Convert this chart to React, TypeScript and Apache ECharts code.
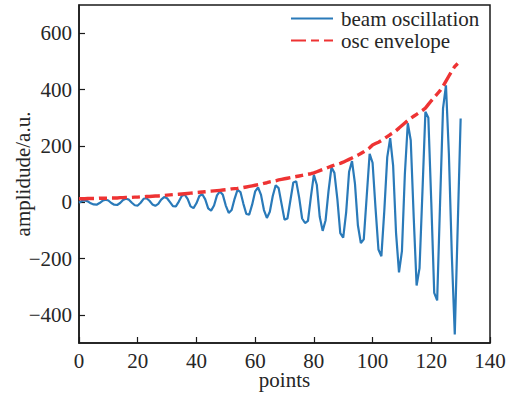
import React, { useEffect, useRef } from "react";
import * as echarts from "echarts";

const beamValues: number[] = [
  -2, 4, 6, 3, -4, -8, -9, -3, 5, 9,
  6, -3, -9, -10, -3, 8, 12, 9, -2, -11,
  -12, -2, 12, 14, 5, -8, -13, -6, 9, 18,
  14, 0, -14, -15, 2, 22, 27, 12, -15, -21,
  -4, 22, 28, 10, -22, -30, -12, 24, 38, 26,
  -12, -38, -28, 12, 44, 36, -6, -42, -44, -8,
  38, 52, 26, -28, -56, -34, 22, 60, 50, -6,
  -62, -58, 6, 70, 74, 16, -58, -74, -66, 20,
  97, 62, -52, -102, -64, 40, 124, 104, 12, -110,
  -126, -36, 108, 146, 66, -82, -145, -132, 20, 172,
  140, -20, -168, -192, -30, 160, 227, 130, -110, -249,
  -174, 100, 280, 220, -50, -296, -234, 40, 321, 300,
  0, -322, -349, 0, 333, 415, 170, -190, -470, -87,
  297,
];

const envelopeValues: number[] = [
  12, 12, 12, 13, 13, 13, 13, 14, 14, 14,
  14, 15, 15, 15, 16, 16, 17, 17, 17, 18,
  18, 19, 19, 20, 20, 21, 22, 22, 23, 24,
  25, 26, 27, 27, 28, 29, 30, 31, 32, 33,
  34, 35, 36, 37, 38, 39, 40, 41, 42, 43,
  44, 45, 47, 48, 49, 51, 52, 54, 56, 58,
  60, 62, 64, 67, 69, 72, 74, 76, 79, 81,
  83, 85, 87, 89, 91, 93, 95, 97, 99, 101,
  104, 108, 112, 116, 120, 124, 128, 132, 135, 138,
  142, 147, 152, 157, 162, 167, 173, 179, 186, 193,
  203, 208, 213, 219, 226, 233, 240, 246, 254, 263,
  272, 281, 290, 298, 305, 312, 319, 326, 334, 347,
  360, 372, 384, 396, 412, 430, 448, 466, 482, 492,
];

const yTicks: number[] = [-400, -200, 0, 200, 400, 600];
const seriesNames: string[] = ["beam oscillation", "osc envelope"];

const FONT = "'Liberation Serif', 'DejaVu Serif', serif";
const TEXT = "#262626";
const AXIS = "#1a1a1a";

export default function App() {
  const ref = useRef<HTMLDivElement>(null);

  useEffect(() => {
    if (!ref.current) return;
    const chart = echarts.init(ref.current, undefined, { renderer: "svg" });
    chart.setOption({
      animation: false,
      backgroundColor: "#ffffff",
      grid: {
        left: 79,
        right: 25,
        top: 5,
        bottom: 53,
        show: true,
        borderColor: AXIS,
        borderWidth: 1.5,
        backgroundColor: "transparent",
        containLabel: false,
        outerBoundsMode: "none",
      },
      legend: {
        orient: "vertical",
        left: 290,
        top: 8,
        padding: 0,
        itemGap: 1,
        itemWidth: 42,
        itemHeight: 14,
        data: seriesNames,
        itemStyle: { color: "transparent", borderWidth: 0, opacity: 0 },
        textStyle: {
          fontFamily: FONT,
          fontSize: 21,
          lineHeight: 17,
          color: TEXT,
          padding: [0, 0, 0, 3],
        },
      },
      xAxis: {
        type: "value",
        min: 0,
        max: 140,
        interval: 20,
        name: "points",
        nameLocation: "middle",
        nameGap: 26,
        nameMoveOverlap: false,
        nameTextStyle: { fontFamily: FONT, fontSize: 21, color: TEXT },
        axisLine: { show: true, onZero: false, lineStyle: { color: AXIS, width: 1.5 } },
        axisTick: { show: true, inside: true, length: 6, lineStyle: { color: AXIS, width: 1.2 } },
        axisLabel: { fontFamily: FONT, fontSize: 21, color: TEXT, margin: 7 },
        splitLine: { show: false },
      },
      yAxis: {
        type: "value",
        min: -500,
        max: 700,
        name: "amplidude/a.u.",
        nameLocation: "middle",
        nameGap: 46,
        nameMoveOverlap: false,
        nameTextStyle: { fontFamily: FONT, fontSize: 21, color: TEXT },
        axisLine: { show: true, onZero: false, lineStyle: { color: AXIS, width: 1.5 } },
        axisTick: {
          show: true,
          inside: true,
          length: 6,
          customValues: yTicks,
          lineStyle: { color: AXIS, width: 1.2 },
        },
        axisLabel: {
          fontFamily: FONT,
          fontSize: 21,
          color: TEXT,
          margin: 7,
          customValues: yTicks,
          formatter: (v: number) => String(v).replace("-", "\u2212"),
        },
        splitLine: { show: false },
      },
      series: [
        {
          name: seriesNames[0],
          type: "line",
          data: beamValues.map((v, i) => [i, v]),
          showSymbol: false,
          symbol: "circle",
          symbolSize: 0,
          lineStyle: { color: "#2a7ab9", width: 2.2 },
          itemStyle: { color: "#2a7ab9" },
          z: 2,
        },
        {
          name: seriesNames[1],
          type: "line",
          data: envelopeValues.map((v, i) => [i, v]),
          showSymbol: false,
          symbol: "circle",
          symbolSize: 0,
          lineStyle: { color: "#ee3333", width: 3.4, type: [15, 5, 8, 5] },
          itemStyle: { color: "#ee3333" },
          z: 3,
        },
      ],
    });
    return () => chart.dispose();
  }, []);

  return (
    <div
      ref={ref}
      style={{ position: "fixed", left: 0, top: 0, width: 515, height: 396 }}
    />
  );
}
